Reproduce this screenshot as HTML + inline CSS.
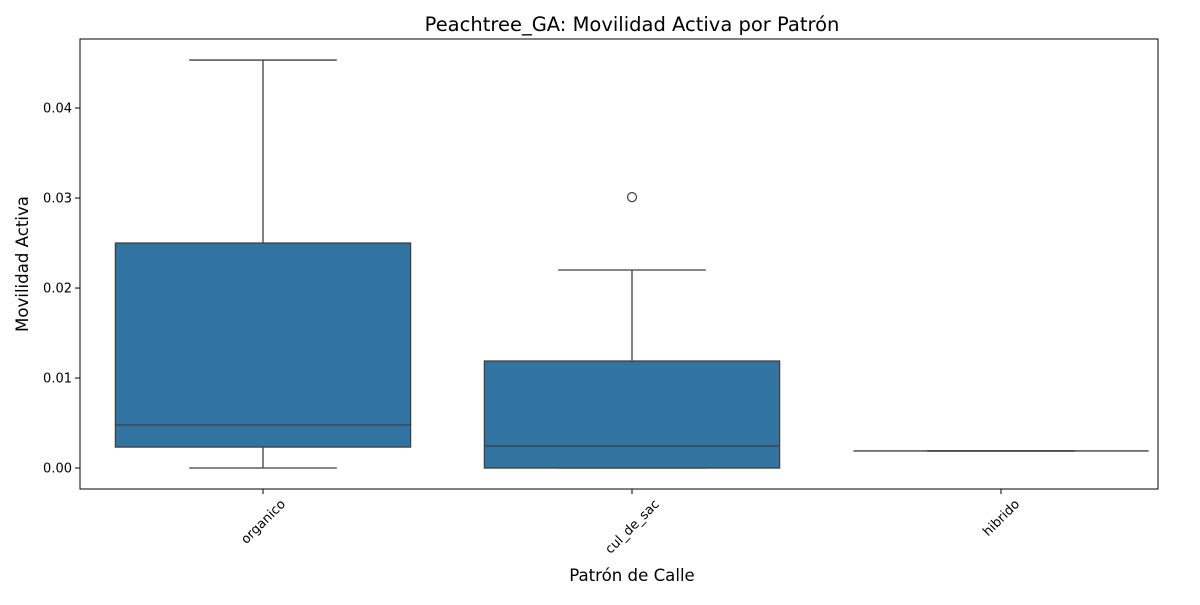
<!DOCTYPE html>
<html><head><meta charset="utf-8"><style>
body{margin:0;background:#fff;}
svg{font-family:"DejaVu Sans","Liberation Sans",sans-serif;}
</style></head><body>
<svg id="chart" width="1200" height="600" xmlns="http://www.w3.org/2000/svg">
<rect width="1200" height="600" fill="#fff"/>
<text x="632" y="31" text-anchor="middle" font-size="19.5" fill="#000">Peachtree_GA: Movilidad Activa por Patrón</text>
<text x="632" y="581" text-anchor="middle" font-size="16.6" fill="#000">Patrón de Calle</text>
<text transform="translate(28,264) rotate(-90)" text-anchor="middle" font-size="16.6" fill="#000">Movilidad Activa</text>
<g id="marks"></g>
<rect x="80" y="39" width="1078" height="450" fill="none" stroke="#000" stroke-width="1"/>
</svg>
<script>
const categories = ["organico","cul_de_sac","hibrido"];
const whiskerLow = [0, 0, 0.0019];
const q1 = [0.00233, 0, 0.0019];
const median = [0.00478, 0.00244, 0.0019];
const q3 = [0.025, 0.01189, 0.0019];
const whiskerHigh = [0.04533, 0.022, 0.0019];
const outliers = [[], [0.0301], []];
const yTicks = [0, 0.01, 0.02, 0.03, 0.04];
const yTickLabels = ["0.00","0.01","0.02","0.03","0.04"];

const L=80,R=1158,T=39,B=489, yMin=-0.00233, yMax=0.04767;
const ns="http://www.w3.org/2000/svg";
const y=v=>B-(v-yMin)/(yMax-yMin)*(B-T);
const step=369, x0=263;
const x=i=>x0+step*i;
const g=document.getElementById('marks');
function mk(tag,attrs){const e=document.createElementNS(ns,tag);for(const k in attrs)e.setAttribute(k,attrs[k]);g.appendChild(e);return e;}
const lc="#3f3f3f";
yTicks.forEach((t,i)=>{
  const l=mk('line',{x1:L-5,x2:L,y1:y(t),y2:y(t),stroke:'#000'});
  
  
  const tx=mk('text',{x:L-8,y:y(t)+4.5,'text-anchor':'end','font-size':13});
  tx.textContent=yTickLabels[i];
  
  
});
categories.forEach((c,i)=>{
  const cx=x(i), bw=step*0.8, cw=bw/2;
  const tk=mk('line',{x1:cx,x2:cx,y1:B,y2:B+5,stroke:'#000'});
  
  
  const lb=mk('text',{'text-anchor':'middle','font-size':13});
  lb.textContent=c;
  
  
  const len=lb.getComputedTextLength();
  const half=(len+13)*0.7071/2;
  lb.setAttribute('transform',`translate(${cx},${B+8+half}) rotate(-45) translate(0,4.5)`);
  const w1=mk('line',{x1:cx,x2:cx,y1:y(whiskerLow[i]),y2:y(q1[i]),stroke:lc,'stroke-width':1.3});
  
  
  const w2=mk('line',{x1:cx,x2:cx,y1:y(q3[i]),y2:y(whiskerHigh[i]),stroke:lc,'stroke-width':1.3});
  
  
  const c1=mk('line',{x1:cx-cw/2,x2:cx+cw/2,y1:y(whiskerLow[i]),y2:y(whiskerLow[i]),stroke:lc,'stroke-width':1.3});
  
  
  const c2=mk('line',{x1:cx-cw/2,x2:cx+cw/2,y1:y(whiskerHigh[i]),y2:y(whiskerHigh[i]),stroke:lc,'stroke-width':1.3});
  
  
  const bx=mk('rect',{x:cx-bw/2,width:bw,y:y(q3[i]),height:Math.max(0,y(q1[i])-y(q3[i])),fill:'#3274a1',stroke:lc,'stroke-width':1.3});
  
  
  const md=mk('line',{x1:cx-bw/2,x2:cx+bw/2,y1:y(median[i]),y2:y(median[i]),stroke:lc,'stroke-width':1.3});
  
  
  outliers[i].forEach(o=>{
    const p=mk('circle',{cx:cx,cy:y(o),r:4.5,fill:'none',stroke:lc,'stroke-width':1.2});
    
    
  });
});
</script>
</body></html>
